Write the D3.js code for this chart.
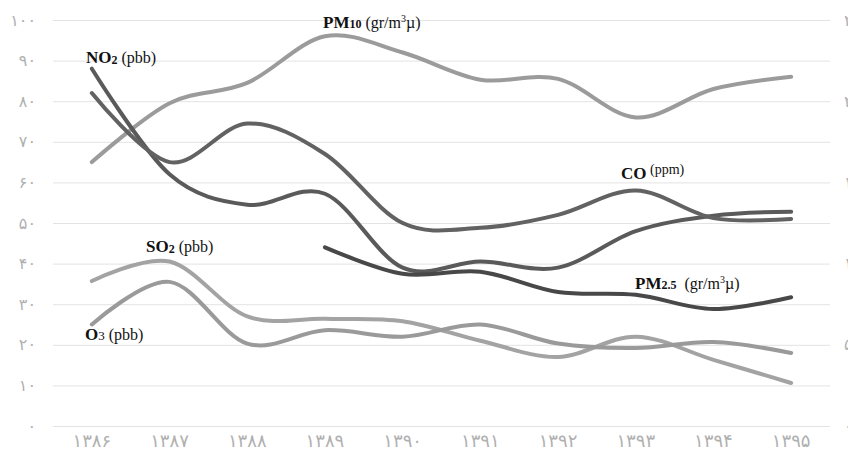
<!DOCTYPE html>
<html>
<head>
<meta charset="utf-8">
<script src="https://cdn.jsdelivr.net/npm/d3@7"></script>
<style>
  html, body { margin: 0; padding: 0; background: #fff; }
  svg { display: block; }
</style>
</head>
<body>
<svg id="chart" width="848" height="456"></svg>
<script>
// ---- data ----
const years = ["۱۳۸۶","۱۳۸۷","۱۳۸۸","۱۳۸۹","۱۳۹۰","۱۳۹۱","۱۳۹۲","۱۳۹۳","۱۳۹۴","۱۳۹۵"];
const yTicks = [0,10,20,30,40,50,60,70,80,90,100];
const yTickLabels = ["۰","۱۰","۲۰","۳۰","۴۰","۵۰","۶۰","۷۰","۸۰","۹۰","۱۰۰"];
const rightTicks = [0,20,40,60,80,100];
const rightTickLabels = ["۰","۵","۱۰","۱۵","۲۰","۲۵"];

const pm10 = [65, 79.5, 84.5, 96, 92, 85.3, 85.5, 76, 83, 86];
const no2  = [88, 62, 54.5, 57.2, 39, 40.5, 39, 48, 51.8, 52.8];
const co   = [82, 65, 74.5, 67, 50, 48.8, 52, 58, 51.2, 51];
const pm25 = [null, null, null, 44, 37.5, 38, 33, 32.3, 28.8, 31.7];
const so2  = [35.7, 40.5, 27, 26.4, 25.8, 21, 17, 22, 16.3, 10.6];
const o3   = [25, 35.5, 20.3, 23.6, 22, 25, 20.3, 19.2, 20.7, 18];

const seriesNames  = ["PM10","NO2","CO","PM2.5","SO2","O3"];
const seriesValues = [pm10, no2, co, pm25, so2, o3];
const seriesColors = ["#9b9b9b","#5a5a5a","#626262","#484848","#a3a3a3","#9a9a9a"];

// ---- layout ----
const svg = d3.select("#chart");
const x = d3.scaleBand().domain(years).range([53, 830]).padding(0);
const y = d3.scaleLinear().domain([0, 100]).range([426, 20]);
const cx = d => x(d) + x.bandwidth() / 2;

// gridlines
svg.append("g").selectAll("line").data(yTicks).join("line")
  .attr("x1", 53).attr("x2", 830)
  .attr("y1", d => y(d) + 0.5).attr("y2", d => y(d) + 0.5)
  .attr("stroke", "#e3e3e3").attr("stroke-width", 1);

// y axis labels
svg.append("g").selectAll("text").data(yTicks).join("text")
  .attr("x", 36).attr("y", d => y(d))
  .attr("dy", "0.35em")
  .attr("text-anchor", "end")
  .attr("font-family", "DejaVu Sans")
  .attr("font-size", 16)
  .attr("letter-spacing", 1.5)
  .attr("fill", "#b0b0b0")
  .text((d, i) => yTickLabels[i]);

// right axis labels (cut at the edge, as in the source)
svg.append("g").selectAll("text").data(rightTicks).join("text")
  .attr("x", 844).attr("y", d => y(d))
  .attr("dy", "0.35em")
  .attr("text-anchor", "start")
  .attr("font-family", "DejaVu Sans")
  .attr("font-size", 16)
  .attr("fill", "#b0b0b0")
  .text((d, i) => rightTickLabels[i]);

// x axis labels
svg.append("g").selectAll("text").data(years).join("text")
  .attr("x", d => cx(d)).attr("y", 441)
  .attr("dy", "0.35em")
  .attr("text-anchor", "middle")
  .attr("font-family", "DejaVu Sans")
  .attr("font-size", 18)
  .attr("letter-spacing", 1.5)
  .attr("fill", "#b0b0b0")
  .text(d => d);

// lines
const line = d3.line()
  .x(d => cx(d.year))
  .y(d => y(d.v))
  .curve(d3.curveCardinal.tension(0));

svg.append("g").selectAll("path").data(seriesValues).join("path")
  .attr("d", vals => line(vals.map((v, i) => ({year: years[i], v})).filter(d => d.v !== null)))
  .attr("fill", "none")
  .attr("stroke", (d, i) => seriesColors[i])
  .attr("stroke-width", 4)
  .attr("stroke-linecap", "round")
  .attr("stroke-linejoin", "round");

// labels
const labelDefs = [
  {x: 86, y: 63, parts: [
    {t: "NO", b: true, s: 17},
    {t: "2", b: true, s: 12, dy: 1},
    {t: " (pbb)", b: false, s: 16, dy: -1}]},
  {x: 323, y: 28, parts: [
    {t: "PM", b: true, s: 17},
    {t: "10", b: true, s: 12},
    {t: " (gr/m", b: false, s: 16},
    {t: "3", b: false, s: 10, dy: -6},
    {t: "µ)", b: false, s: 16, dy: 6}]},
  {x: 621, y: 179, parts: [
    {t: "CO", b: true, s: 17},
    {t: " (ppm)", b: false, s: 14, dy: -5}]},
  {x: 635, y: 289, parts: [
    {t: "PM", b: true, s: 17},
    {t: "2.5", b: true, s: 12},
    {t: "  (gr/m", b: false, s: 16},
    {t: "3", b: false, s: 10, dy: -6},
    {t: "µ)", b: false, s: 16, dy: 6}]},
  {x: 146, y: 252, parts: [
    {t: "SO", b: true, s: 17},
    {t: "2", b: true, s: 12, dy: 1},
    {t: " (pbb)", b: false, s: 16, dy: -1}]},
  {x: 85, y: 340, parts: [
    {t: "O", b: true, s: 17},
    {t: "3", b: false, s: 13},
    {t: " (pbb)", b: false, s: 16}]}
];

const lg = svg.append("g")
  .attr("font-family", "Liberation Serif, Times New Roman, serif")
  .attr("fill", "#111");
labelDefs.forEach(l => {
  const t = lg.append("text").attr("x", l.x).attr("y", l.y);
  l.parts.forEach(p => {
    t.append("tspan")
      .attr("font-weight", p.b ? "bold" : "normal")
      .attr("font-size", p.s)
      .attr("dy", p.dy || 0)
      .style("white-space", "pre")
      .text(p.t);
  });
});
</script>
</body>
</html>
